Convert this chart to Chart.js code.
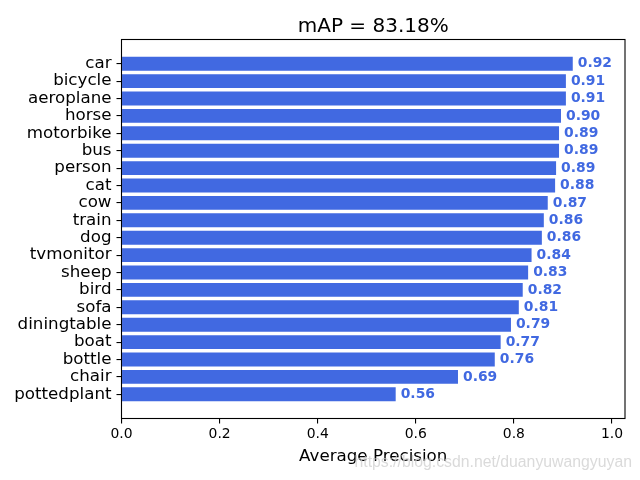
<!DOCTYPE html>
<html>
<head>
<meta charset="utf-8">
<script src="https://cdn.jsdelivr.net/npm/chart.js@4"></script>
<style>
  html, body { margin: 0; padding: 0; background: #fff; }
  #wrap { width: 640px; height: 480px; }
</style>
</head>
<body>
<div id="wrap"><canvas id="apChart" width="640" height="480"></canvas></div>
<script>
// --- data ---
const classes = ['car', 'bicycle', 'aeroplane', 'horse', 'motorbike', 'bus', 'person', 'cat', 'cow', 'train',
                 'dog', 'tvmonitor', 'sheep', 'bird', 'sofa', 'diningtable', 'boat', 'bottle', 'chair', 'pottedplant'];
const apValues = [0.920, 0.906, 0.906, 0.896, 0.892, 0.892, 0.886, 0.884, 0.869, 0.861,
                  0.857, 0.836, 0.829, 0.818, 0.810, 0.794, 0.773, 0.761, 0.686, 0.559];
const xTicks = [0, 0.2, 0.4, 0.6, 0.8, 1.0];
const titleText = 'mAP = 83.18%';
const xTitle = 'Average Precision';
const watermark = 'https://blog.csdn.net/duanyuwangyuyan';

const barColor = '#4169E1'; // royalblue
const FONT = "'DejaVu Sans', sans-serif";
Chart.defaults.font.family = FONT;
Chart.defaults.color = '#000';

// value labels, frame and watermark
const extras = {
    id: 'extras',
    afterDatasetsDraw(chart) {
        const ctx = chart.ctx;
        const meta = chart.getDatasetMeta(0);
        ctx.save();
        ctx.font = 'bold 13.9px ' + FONT;
        ctx.fillStyle = barColor;
        ctx.textAlign = 'left';
        ctx.textBaseline = 'middle';
        meta.data.forEach((bar, i) => {
            ctx.fillText(apValues[i].toFixed(2), bar.x + 5, bar.y);
        });
        ctx.restore();
    },
    afterDraw(chart) {
        const { ctx, chartArea: a } = chart;
        ctx.save();
        ctx.strokeStyle = '#000';
        ctx.lineWidth = 1.1;
        ctx.strokeRect(a.left, a.top, a.right - a.left, a.bottom - a.top);

        ctx.font = "15.8px 'Liberation Sans', sans-serif";
        ctx.fillStyle = 'rgba(205,205,205,0.75)';
        ctx.textAlign = 'right';
        ctx.textBaseline = 'middle';
        ctx.fillText(watermark, 632, 463);
        ctx.restore();
    }
};

new Chart(document.getElementById('apChart'), {
    type: 'bar',
    data: {
        datasets: [{
            data: apValues.map((v, i) => ({ x: v, y: i })),
            backgroundColor: barColor,
            borderWidth: 0,
            barPercentage: 0.8,
            categoryPercentage: 1.0
        }]
    },
    options: {
        indexAxis: 'y',
        responsive: false,
        animation: false,
        layout: { padding: { left: 0, right: 15, top: 0, bottom: 0 } },
        plugins: {
            legend: { display: false },
            tooltip: { enabled: false },
            title: {
                display: true,
                fullSize: false,
                text: titleText,
                color: '#000',
                font: { size: 20, weight: 'normal' },
                padding: { top: 15, bottom: 0.5 }
            }
        },
        scales: {
            x: {
                type: 'linear',
                min: 0,
                max: 1.0265,
                afterFit(scale) { scale.height = 61.5; },
                afterBuildTicks(scale) { scale.ticks = xTicks.map(v => ({ value: v })); },
                ticks: {
                    color: '#000',
                    font: { size: 13.9 },
                    padding: 3,
                    maxRotation: 0,
                    callback: v => Number(v).toFixed(1)
                },
                grid: { drawOnChartArea: false, drawTicks: true, tickLength: 5, color: '#000', lineWidth: 1.1 },
                border: { display: false },
                title: {
                    display: true,
                    text: xTitle,
                    color: '#000',
                    font: { size: 16.7 },
                    padding: { top: 0, bottom: 13 }
                }
            },
            y: {
                type: 'linear',
                reverse: true,
                offset: false,
                min: -1.39,
                max: 20.39,
                afterFit(scale) { scale.width = 121.5; },
                afterBuildTicks(scale) { scale.ticks = classes.map((_, i) => ({ value: i })); },
                ticks: {
                    color: '#000',
                    font: { size: 16.7 },
                    padding: 5,
                    autoSkip: false,
                    callback: v => classes[v]
                },
                grid: { offset: false, drawOnChartArea: false, drawTicks: true, tickLength: 5, color: '#000', lineWidth: 1.1 },
                border: { display: false }
            }
        }
    },
    plugins: [extras]
});
</script>
</body>
</html>
